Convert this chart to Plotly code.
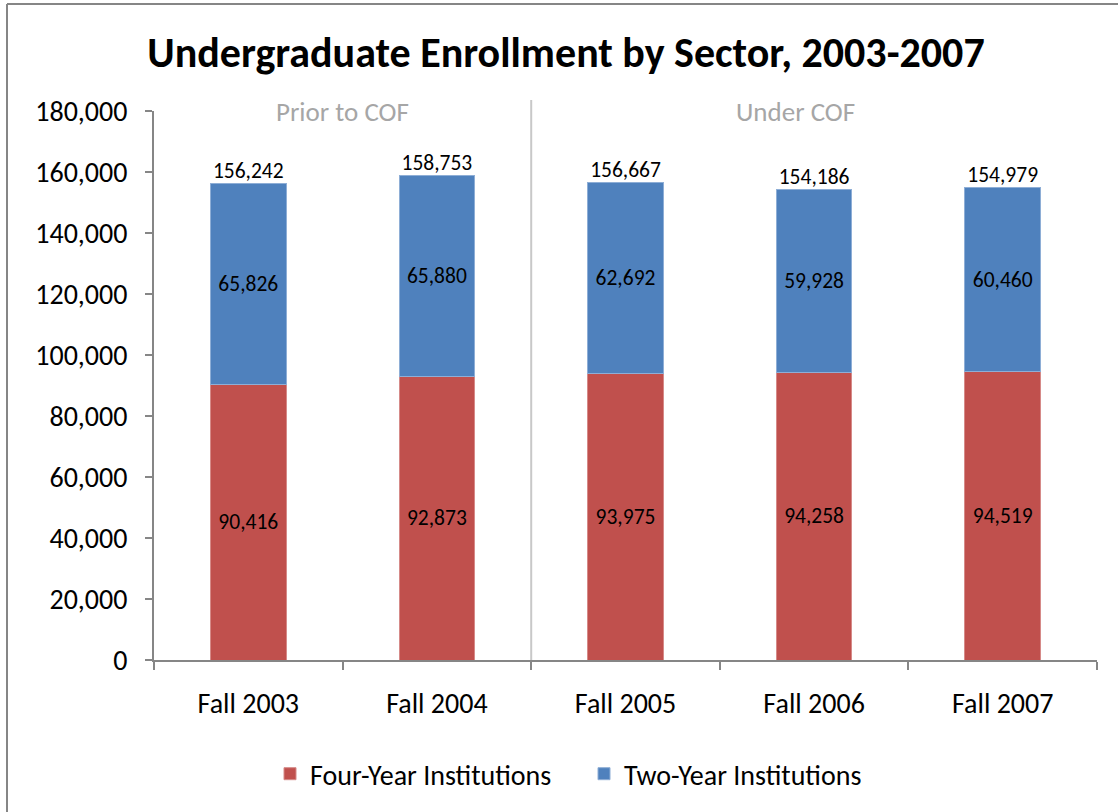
import plotly.graph_objects as go

categories = ["Fall 2003", "Fall 2004", "Fall 2005", "Fall 2006", "Fall 2007"]
four_year = [90416, 92873, 93975, 94258, 94519]
two_year = [65826, 65880, 62692, 59928, 60460]
totals = [a + b for a, b in zip(four_year, two_year)]

W, H = 1118, 812
L, R, T, B = 154, 21, 111, 152
pw, ph = W - L - R, H - T - B

FONT = "Carlito, Calibri, Lato, sans-serif"
LBL = 21.5

fig = go.Figure()
fig.add_trace(go.Bar(
    x=categories, y=four_year, name="Four-Year Institutions",
    marker=dict(color="#C0504D", line=dict(width=1, color="#D68A88")),
    text=[f"{v:,}" for v in four_year], textposition="inside",
    insidetextanchor="middle", textangle=0,
    textfont=dict(size=LBL, color="black", family=FONT),
    constraintext="none", width=0.4,
))
fig.add_trace(go.Bar(
    x=categories, y=two_year, name="Two-Year Institutions",
    marker=dict(color="#4F81BD", line=dict(width=1, color="#8EAED6")),
    text=[f"{v:,}" for v in two_year], textposition="inside",
    insidetextanchor="middle", textangle=0,
    textfont=dict(size=LBL, color="black", family=FONT),
    constraintext="none", width=0.4,
))
fig.add_trace(go.Scatter(
    x=categories, y=totals, mode="text",
    text=[f"{v:,}" for v in totals], textposition="top center",
    textfont=dict(size=LBL, color="black", family=FONT),
    showlegend=False, hoverinfo="skip",
))

fig.update_layout(
    width=W, height=H,
    margin=dict(l=L, r=R, t=T, b=B),
    barmode="stack",
    paper_bgcolor="white", plot_bgcolor="white",
    font=dict(family=FONT, color="black"),
    title=dict(text="<b>Undergraduate Enrollment by Sector, 2003-2007</b>",
               x=566 / W, xanchor="center", y=1 - 52 / H, yanchor="middle",
               font=dict(size=42, family=FONT, color="black")),
    legend=dict(orientation="h", x=(584 - L) / pw, xanchor="center",
                y=-(774 - (T + ph)) / ph, yanchor="middle",
                font=dict(size=28, family=FONT), itemwidth=30,
                entrywidth=269, entrywidthmode="pixels",
                traceorder="normal"),
    xaxis=dict(
        type="category", showline=True, linecolor="#868686", linewidth=2,
        ticks="outside", tickson="boundaries", ticklen=8, tickcolor="#868686",
        tickwidth=2, tickfont=dict(size=28, family=FONT),
        ticklabelstandoff=17, showgrid=False, range=[-0.5, 4.5],
    ),
    yaxis=dict(
        range=[0, 180000], dtick=20000, tickformat=",d",
        showline=True, linecolor="#868686", linewidth=2,
        ticks="outside", ticklen=7, tickcolor="#868686", tickwidth=2,
        tickfont=dict(size=28, family=FONT), ticklabelstandoff=12,
        showgrid=False, zeroline=False,
    ),
    shapes=[
        dict(type="line", xref="x", yref="paper", x0=1.5, x1=1.5,
             y0=0, y1=(660 - 100) / ph, line=dict(color="#C8C8C8", width=2)),
        dict(type="line", xref="paper", yref="paper",
             x0=(7 - L) / pw, x1=(W + 10 - L) / pw,
             y0=(660 - 4) / ph, y1=(660 - 4) / ph,
             line=dict(color="#868686", width=2)),
        dict(type="line", xref="paper", yref="paper",
             x0=(7 - L) / pw, x1=(7 - L) / pw,
             y0=(660 - 4) / ph, y1=-(H + 10 - 660) / ph,
             line=dict(color="#868686", width=2)),
    ],
    annotations=[
        dict(text="Prior to COF", xref="x", yref="paper", x=0.5, y=1.0,
             yanchor="middle", showarrow=False,
             font=dict(size=27, color="#A6A6A6", family=FONT)),
        dict(text="Under COF", xref="x", yref="paper", x=2.9, y=1.0,
             yanchor="middle", showarrow=False,
             font=dict(size=27, color="#A6A6A6", family=FONT)),
    ],
)

fig.write_html(
    "out.html",
    config={"displayModeBar": False},
    post_script="document.body.style.margin='0px';document.body.style.overflow='hidden';",
)
